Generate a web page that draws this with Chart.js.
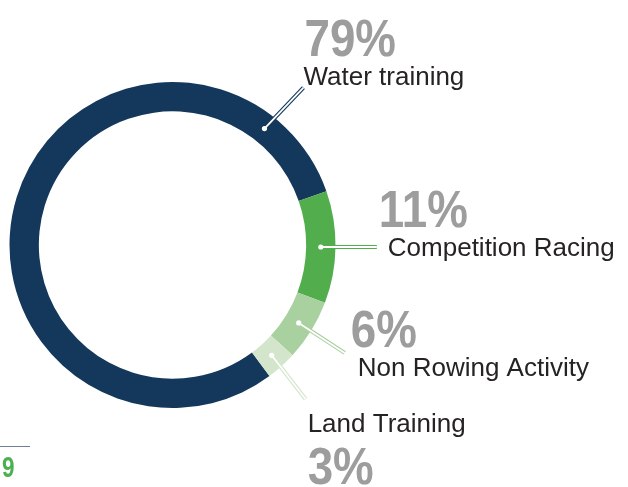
<!DOCTYPE html>
<html>
<head>
<meta charset="utf-8">
<script src="https://cdn.jsdelivr.net/npm/chart.js@4.4.0/dist/chart.umd.min.js"></script>
<style>
  html, body { margin: 0; padding: 0; background: #ffffff; }
  #wrap { position: relative; width: 628px; height: 487px; }
</style>
</head>
<body>
<div id="wrap"><canvas id="c" width="628" height="487"></canvas></div>
<script>
// ---- data ----
const categories = ['Water training', 'Competition Racing', 'Non Rowing Activity', 'Land Training'];
const values = [79, 11, 6, 3];
const percentLabels = ['79%', '11%', '6%', '3%'];
const pageNumber = '9';

// ---- styles ----
const sliceColors = ['#14375C', '#52AD4D', '#A9D09F', '#D3E6CC'];
// leader layout: anchor fraction along arc, leader end offset from anchor, label offsets from leader end
const leaderStyle = [
  { frac: 0.887, end: [39, -41], name: [0, -3],  pct: [1, -32] },
  { frac: 0.5,   end: [56, 0],   name: [11, 9],  pct: [2, -20] },
  { frac: 0.5,   end: [46, 30],  name: [13, 23], pct: [6, -6] },
  { frac: 0.5,   end: [34, 44],  name: [2, 33],  pct: [2, 85] }
];

const labelPlugin = {
  id: 'leaderLabels',
  afterDatasetsDraw(chart) {
    const ctx = chart.ctx;
    const meta = chart.getDatasetMeta(0);
    meta.data.forEach((arc, i) => {
      const p = arc.getProps(['x', 'y', 'startAngle', 'endAngle', 'innerRadius', 'outerRadius'], true);
      const st = leaderStyle[i];
      const a = p.startAngle + st.frac * (p.endAngle - p.startAngle);
      const r = (p.innerRadius + p.outerRadius) / 2;
      const ax = p.x + Math.cos(a) * r;
      const ay = p.y + Math.sin(a) * r;
      const ex = ax + st.end[0];
      const ey = ay + st.end[1];
      ctx.save();
      ctx.lineCap = 'butt';
      ctx.strokeStyle = sliceColors[i];
      ctx.lineWidth = 4;
      ctx.beginPath(); ctx.moveTo(ax, ay); ctx.lineTo(ex, ey); ctx.stroke();
      ctx.strokeStyle = '#ffffff';
      ctx.lineWidth = 1.8;
      ctx.beginPath(); ctx.moveTo(ax, ay); ctx.lineTo(ex, ey); ctx.stroke();
      ctx.fillStyle = '#ffffff';
      ctx.beginPath(); ctx.arc(ax, ay, 2.6, 0, Math.PI * 2); ctx.fill();

      ctx.textAlign = 'left';
      ctx.textBaseline = 'alphabetic';
      ctx.fillStyle = '#262324';
      ctx.font = '26px "Liberation Sans", Arial, sans-serif';
      ctx.fillText(categories[i], ex + st.name[0], ey + st.name[1]);
      ctx.fillStyle = '#9D9D9D';
      ctx.font = 'bold 52px "Liberation Sans", Arial, sans-serif';
      const px = ex + st.pct[0], py = ey + st.pct[1];
      ctx.translate(px, py);
      ctx.scale(0.88, 1);
      ctx.fillText(percentLabels[i], 0, 0);
      ctx.restore();
    });
    // page footer fragment
    ctx.save();
    ctx.strokeStyle = '#6D7E98';
    ctx.lineWidth = 1;
    ctx.beginPath(); ctx.moveTo(0, 446.5); ctx.lineTo(30, 446.5); ctx.stroke();
    ctx.fillStyle = '#4CAF50';
    ctx.font = 'bold 30px "Liberation Sans", Arial, sans-serif';
    ctx.textAlign = 'left';
    ctx.translate(2, 477);
    ctx.scale(0.75, 1);
    ctx.fillText(pageNumber, 0, 0);
    ctx.restore();
  }
};

new Chart(document.getElementById('c'), {
  type: 'doughnut',
  data: {
    labels: categories,
    datasets: [{
      data: values,
      backgroundColor: sliceColors,
      borderWidth: 0,
      hoverOffset: 0
    }]
  },
  options: {
    responsive: false,
    animation: false,
    devicePixelRatio: 1,
    rotation: 143.5,
    cutout: '82%',
    layout: { padding: { top: 82, bottom: 79, left: 9, right: 292 } },
    plugins: {
      legend: { display: false },
      tooltip: { enabled: false }
    },
    events: []
  },
  plugins: [labelPlugin]
});
</script>
</body>
</html>
